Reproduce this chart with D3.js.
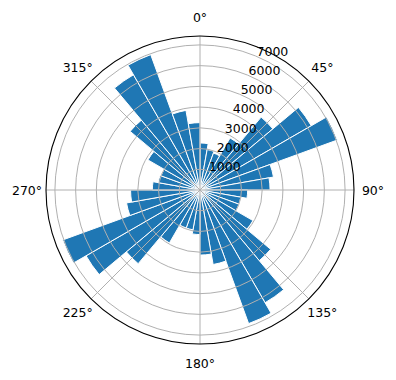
<!DOCTYPE html>
<html>
<head>
<meta charset="utf-8">
<script src="https://cdn.jsdelivr.net/npm/d3@7"></script>
<style>
  body { margin: 0; background: #fff; }
  svg text { font-family: "DejaVu Sans", sans-serif; font-size: 12.5px; fill: #000; }
</style>
</head>
<body>
<div id="chart"></div>
<script>
// 36 direction bins of 10 degrees, clockwise from north
const binStarts = d3.range(0, 360, 10);
const counts = [
  2270, 1980, 1900, 2900, 4590, 6200, 7050, 3600, 3380,
  2300, 2000, 2000, 2950, 4450, 6280, 6860, 3650, 3140,
  2150, 1950, 1950, 2950, 4640, 6350, 7050, 3600, 3350,
  2300, 2050, 2000, 2900, 4400, 6420, 6950, 3900, 3250
];
const radialTicks = [1000, 2000, 3000, 4000, 5000, 6000, 7000];
const angleTicks = [0, 45, 90, 135, 180, 225, 270, 315];
const rMax = 7430;

const width = 396, height = 380;
const cx = 200, cy = 190, outer = 154;

const svg = d3.select("#chart").append("svg")
  .attr("width", width)
  .attr("height", height);

const g = svg.append("g").attr("transform", `translate(${cx},${cy})`);

const r = d3.scaleLinear().domain([0, rMax]).range([0, outer]);
const rad = d => d * Math.PI / 180;

// bars
const arc = d3.arc()
  .innerRadius(0)
  .outerRadius(d => r(d.value))
  .startAngle(d => rad(d.start))
  .endAngle(d => rad(d.start + 10));

g.selectAll(".bar")
  .data(binStarts.map((s, i) => ({ start: s, value: counts[i] })))
  .join("path")
  .attr("class", "bar")
  .attr("d", arc)
  .attr("fill", "#1f77b4")
  .attr("stroke", "#fff")
  .attr("stroke-width", 1);

// grid circles and spokes (drawn above the bars like matplotlib)
g.selectAll(".rgrid")
  .data(radialTicks)
  .join("circle")
  .attr("r", d => r(d))
  .attr("fill", "none")
  .attr("stroke", "#b0b0b0")
  .attr("stroke-width", 1);

g.selectAll(".tgrid")
  .data(angleTicks)
  .join("line")
  .attr("x1", 0).attr("y1", 0)
  .attr("x2", d => outer * Math.sin(rad(d)))
  .attr("y2", d => -outer * Math.cos(rad(d)))
  .attr("stroke", "#b0b0b0")
  .attr("stroke-width", 1);

// outer spine
g.append("circle")
  .attr("r", outer)
  .attr("fill", "none")
  .attr("stroke", "#000")
  .attr("stroke-width", 1.1);

// angle labels
g.selectAll(".tlabel")
  .data(angleTicks)
  .join("text")
  .attr("x", d => 173 * Math.sin(rad(d)))
  .attr("y", d => -173 * Math.cos(rad(d)))
  .attr("text-anchor", "middle")
  .attr("dominant-baseline", "central")
  .text(d => d + "°");

// radial labels along 22.5 degrees
g.selectAll(".rlabel")
  .data(radialTicks)
  .join("text")
  .attr("x", d => r(d) * Math.sin(rad(22.5)) + 1)
  .attr("y", d => -r(d) * Math.cos(rad(22.5)))
  .text(d => d);
</script>
</body>
</html>
